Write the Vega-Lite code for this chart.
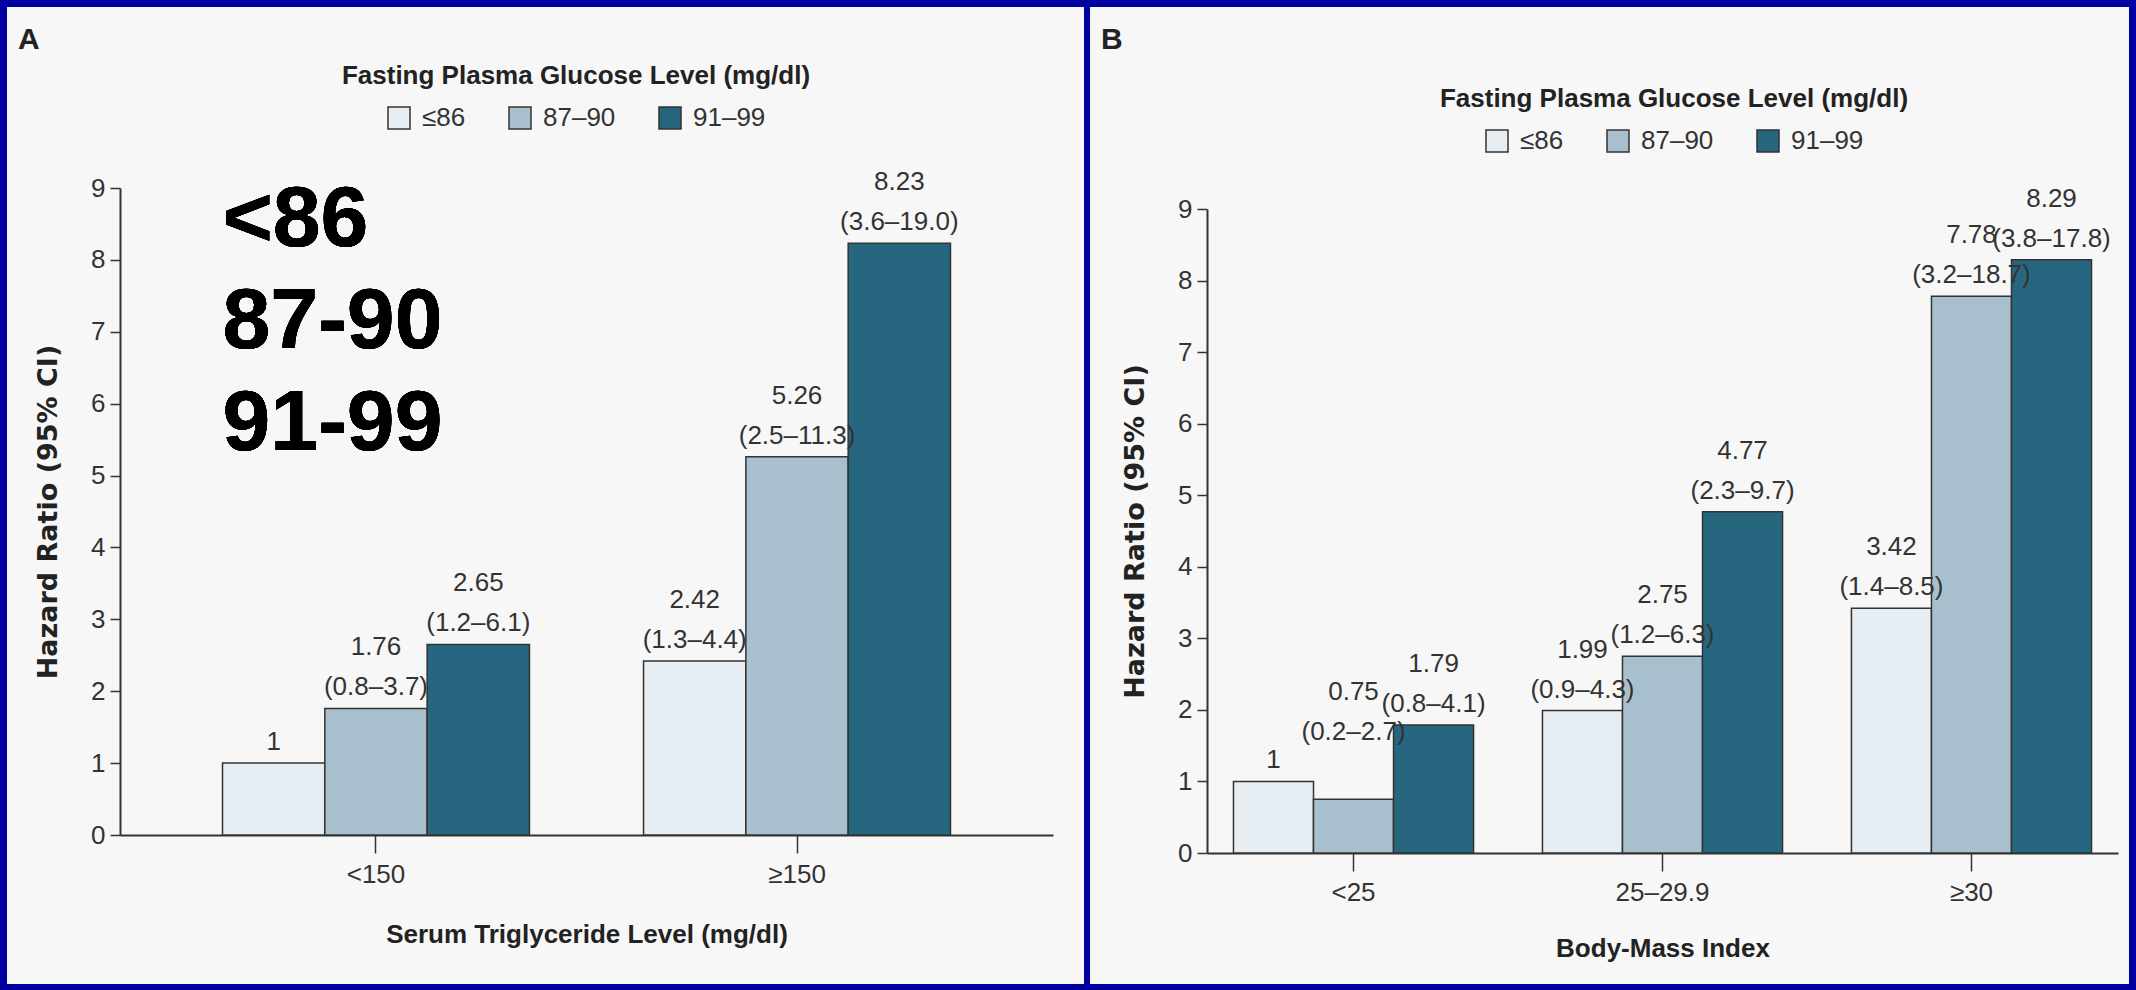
{
  "$schema": "https://vega.github.io/schema/vega-lite/v6.json",
  "background": "#0000a0",
  "padding": {"left": 7, "top": 7, "right": 7, "bottom": 6},
  "spacing": 6,
  "resolve": {"scale": {"color": "independent", "xOffset": "independent"}},
  "config": {
    "view": {"stroke": null},
    "axis": {
      "grid": false,
      "domainColor": "#333",
      "domainWidth": 2,
      "tickColor": "#333",
      "tickWidth": 1.5,
      "labelFont": "Liberation Sans",
      "labelFontSize": 26,
      "labelColor": "#333",
      "titleColor": "#222"
    },
    "legend": {
      "orient": "none",
      "direction": "horizontal",
      "titleAnchor": "middle",
      "titleFont": "Liberation Sans",
      "titleFontSize": 26,
      "titleFontWeight": "bold",
      "titleColor": "#222",
      "titlePadding": 16,
      "titleLimit": 1000,
      "labelLimit": 1000,
      "labelFont": "Liberation Sans",
      "labelFontSize": 26,
      "labelColor": "#333",
      "labelOffset": 10,
      "columnPadding": 40,
      "symbolType": "square",
      "symbolSize": 484,
      "symbolStrokeColor": "#333",
      "symbolStrokeWidth": 1.5,
      "symbolOpacity": 1
    },
    "text": {"font": "Liberation Sans", "fontSize": 26, "color": "#333", "baseline": "alphabetic"},
    "title": {"font": "Liberation Sans", "fontSize": 30, "fontWeight": "bold", "color": "#222", "anchor": "start", "frame": "group"}
  },
  "hconcat": [
    {
      "width": 1077,
      "height": 977,
      "view": {"fill": "#f7f7f7", "stroke": null},
      "title": {"text": "A", "offset": -48, "dx": 11},
      "data": {"values": [
        {"tg": "<150", "fpg": "≤86", "hr": 1},
        {"tg": "<150", "fpg": "87–90", "hr": 1.76, "ci": "(0.8–3.7)"},
        {"tg": "<150", "fpg": "91–99", "hr": 2.65, "ci": "(1.2–6.1)"},
        {"tg": "≥150", "fpg": "≤86", "hr": 2.42, "ci": "(1.3–4.4)"},
        {"tg": "≥150", "fpg": "87–90", "hr": 5.26, "ci": "(2.5–11.3)"},
        {"tg": "≥150", "fpg": "91–99", "hr": 8.23, "ci": "(3.6–19.0)"}
      ]},
      "encoding": {
        "x": {"field": "tg", "type": "nominal", "sort": ["<150", "≥150"],
          "scale": {"range": [113, 1046], "paddingInner": 0.271, "paddingOuter": 0.2435},
          "axis": {"title": "Serum Triglyceride Level (mg/dl)", "orient": "bottom", "offset": -149, "labelAngle": 0, "tickSize": 18, "labelPadding": 8,
            "titleFont": "Liberation Sans", "titleFontSize": 26, "titleFontWeight": "bold", "titlePadding": 34}},
        "xOffset": {"field": "fpg", "type": "nominal", "sort": ["≤86", "87–90", "91–99"], "scale": {"paddingInner": 0, "paddingOuter": 0}},
        "y": {"field": "hr", "type": "quantitative",
          "scale": {"domain": [0, 9], "range": [828, 181], "nice": false},
          "axis": {"title": "Hazard Ratio (95% CI)", "orient": "left", "offset": -113, "values": [0, 1, 2, 3, 4, 5, 6, 7, 8, 9], "format": "d", "tickSize": 10, "labelPadding": 5,
            "titleFont": "DejaVu Sans", "titleFontSize": 27, "titleFontWeight": "bold", "titlePadding": 28}}
      },
      "layer": [
        {
          "mark": {"type": "bar", "stroke": "#333", "strokeWidth": 1.5},
          "encoding": {
            "color": {"field": "fpg", "type": "nominal", "sort": ["≤86", "87–90", "91–99"],
              "scale": {"domain": ["≤86", "87–90", "91–99"], "range": ["#e6eef4", "#a8c0ce", "#27667f"]},
              "legend": {"title": "Fasting Plasma Glucose Level (mg/dl)", "legendX": 335, "legendY": 56}}
          }
        },
        {
          "transform": [{"filter": "isValid(datum.ci)"}],
          "mark": {"type": "text", "dy": -13},
          "encoding": {"text": {"field": "ci"}}
        },
        {
          "transform": [{"filter": "isValid(datum.ci)"}],
          "mark": {"type": "text", "dy": -53},
          "encoding": {"text": {"field": "hr", "type": "nominal"}}
        },
        {
          "transform": [{"filter": "!isValid(datum.ci)"}],
          "mark": {"type": "text", "dy": -13},
          "encoding": {"text": {"field": "hr", "type": "nominal"}}
        },
        {
          "mark": {"type": "text", "align": "left", "baseline": "alphabetic", "font": "Liberation Sans", "fontWeight": "bold", "fontSize": 86, "lineHeight": 102, "color": "#000"},
          "encoding": {
            "x": {"datum": "<150", "type": "nominal", "bandPosition": 0},
            "xOffset": null,
            "y": {"datum": 8.19, "type": "quantitative"},
            "text": {"value": ["<86", "87-90", "91-99"]}
          }
        }
      ]
    },
    {
      "width": 1039,
      "height": 977,
      "view": {"fill": "#f7f7f7", "stroke": null},
      "title": {"text": "B", "offset": -48, "dx": 11},
      "data": {"values": [
        {"bmi": "<25", "fpg": "≤86", "hr": 1},
        {"bmi": "<25", "fpg": "87–90", "hr": 0.75, "ci": "(0.2–2.7)"},
        {"bmi": "<25", "fpg": "91–99", "hr": 1.79, "ci": "(0.8–4.1)"},
        {"bmi": "25–29.9", "fpg": "≤86", "hr": 1.99, "ci": "(0.9–4.3)"},
        {"bmi": "25–29.9", "fpg": "87–90", "hr": 2.75, "ci": "(1.2–6.3)"},
        {"bmi": "25–29.9", "fpg": "91–99", "hr": 4.77, "ci": "(2.3–9.7)"},
        {"bmi": "≥30", "fpg": "≤86", "hr": 3.42, "ci": "(1.4–8.5)"},
        {"bmi": "≥30", "fpg": "87–90", "hr": 7.78, "ci": "(3.2–18.7)"},
        {"bmi": "≥30", "fpg": "91–99", "hr": 8.29, "ci": "(3.8–17.8)"}
      ]},
      "encoding": {
        "x": {"field": "bmi", "type": "nominal", "sort": ["<25", "25–29.9", "≥30"],
          "scale": {"range": [117, 1028], "paddingInner": 0.223, "paddingOuter": 0.0857},
          "axis": {"title": "Body-Mass Index", "orient": "bottom", "offset": -131, "labelAngle": 0, "tickSize": 18, "labelPadding": 8,
            "titleFont": "Liberation Sans", "titleFontSize": 26, "titleFontWeight": "bold", "titlePadding": 30}},
        "xOffset": {"field": "fpg", "type": "nominal", "sort": ["≤86", "87–90", "91–99"], "scale": {"paddingInner": 0, "paddingOuter": 0}},
        "y": {"field": "hr", "type": "quantitative",
          "scale": {"domain": [0, 9], "range": [846, 202], "nice": false},
          "axis": {"title": "Hazard Ratio (95% CI)", "orient": "left", "offset": -117, "values": [0, 1, 2, 3, 4, 5, 6, 7, 8, 9], "format": "d", "tickSize": 10, "labelPadding": 5,
            "titleFont": "DejaVu Sans", "titleFontSize": 27, "titleFontWeight": "bold", "titlePadding": 28}}
      },
      "layer": [
        {
          "mark": {"type": "bar", "stroke": "#333", "strokeWidth": 1.5},
          "encoding": {
            "color": {"field": "fpg", "type": "nominal", "sort": ["≤86", "87–90", "91–99"],
              "scale": {"domain": ["≤86", "87–90", "91–99"], "range": ["#e6eef4", "#a8c0ce", "#27667f"]},
              "legend": {"title": "Fasting Plasma Glucose Level (mg/dl)", "legendX": 350, "legendY": 79}}
          }
        },
        {
          "transform": [{"filter": "isValid(datum.ci) && datum.hr != 0.75"}],
          "mark": {"type": "text", "dy": -13},
          "encoding": {"text": {"field": "ci"}}
        },
        {
          "transform": [{"filter": "isValid(datum.ci) && datum.hr != 0.75"}],
          "mark": {"type": "text", "dy": -53},
          "encoding": {"text": {"field": "hr", "type": "nominal"}}
        },
        {
          "transform": [{"filter": "!isValid(datum.ci)"}],
          "mark": {"type": "text", "dy": -13},
          "encoding": {"text": {"field": "hr", "type": "nominal"}}
        },
        {
          "transform": [{"filter": "datum.hr == 0.75"}],
          "mark": {"type": "text", "dy": -59},
          "encoding": {"text": {"field": "ci"}}
        },
        {
          "transform": [{"filter": "datum.hr == 0.75"}],
          "mark": {"type": "text", "dy": -99},
          "encoding": {"text": {"field": "hr", "type": "nominal"}}
        }
      ]
    }
  ]
}
